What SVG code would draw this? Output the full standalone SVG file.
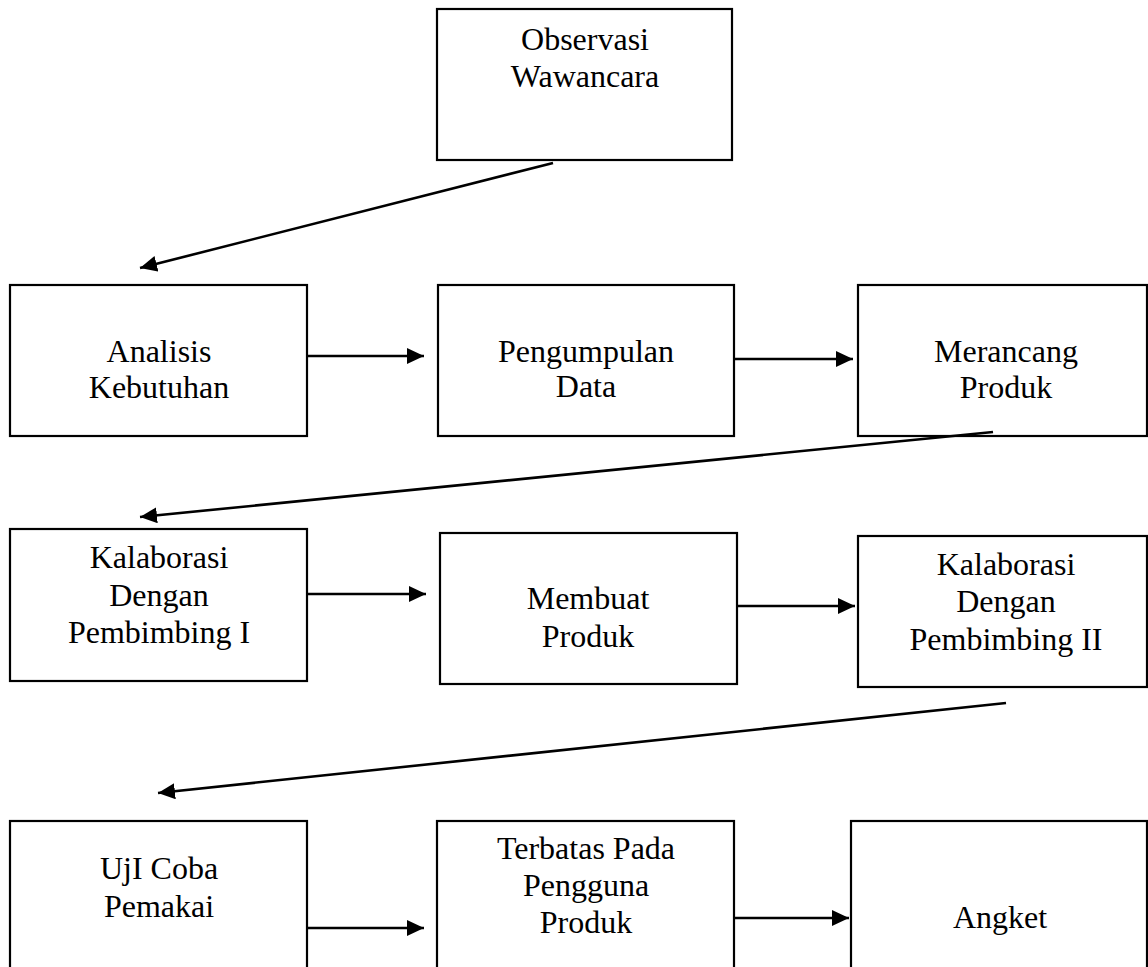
<svg xmlns="http://www.w3.org/2000/svg" width="1148" height="967" viewBox="0 0 1148 967">
<style>
.box{fill:#fff;stroke:#000;stroke-width:2.2}
.t{font-family:"Liberation Serif","Times New Roman",serif;font-size:32px;fill:#000;text-anchor:middle}
.c{stroke:#000;stroke-width:2.6;fill:none;marker-end:url(#ah)}
</style>
<defs>
<marker id="ah" markerUnits="userSpaceOnUse" markerWidth="19" markerHeight="18" refX="17" refY="8" orient="auto">
<path d="M0,0 L17,8 L0,16 z" fill="#000"/>
</marker>
</defs>
<rect width="1148" height="967" fill="#fff"/>
<g id="n-observasi"><rect class="box" x="437" y="9" width="295" height="151"/><text class="t" x="585" y="50">Observasi</text><text class="t" x="585" y="87">Wawancara</text></g>
<g id="n-analisis"><rect class="box" x="10" y="285" width="297" height="151"/><text class="t" x="159" y="362">Analisis</text><text class="t" x="159" y="398">Kebutuhan</text></g>
<g id="n-pengumpulan"><rect class="box" x="438" y="285" width="296" height="151"/><text class="t" x="586" y="362">Pengumpulan</text><text class="t" x="586" y="397">Data</text></g>
<g id="n-merancang"><rect class="box" x="858" y="285" width="289" height="151"/><text class="t" x="1006" y="362">Merancang</text><text class="t" x="1006" y="398">Produk</text></g>
<g id="n-kalab1"><rect class="box" x="10" y="529" width="297" height="152"/><text class="t" x="159" y="568">Kalaborasi</text><text class="t" x="159" y="606">Dengan</text><text class="t" x="159" y="643">Pembimbing I</text></g>
<g id="n-membuat"><rect class="box" x="440" y="533" width="297" height="151"/><text class="t" x="588" y="609">Membuat</text><text class="t" x="588" y="647">Produk</text></g>
<g id="n-kalab2"><rect class="box" x="858" y="536" width="289" height="151"/><text class="t" x="1006" y="575">Kalaborasi</text><text class="t" x="1006" y="612">Dengan</text><text class="t" x="1006" y="650">Pembimbing II</text></g>
<g id="n-ujicoba"><rect class="box" x="10" y="821" width="297" height="160"/><text class="t" x="159" y="879">UjI Coba</text><text class="t" x="159" y="917">Pemakai</text></g>
<g id="n-terbatas"><rect class="box" x="437" y="821" width="297" height="160"/><text class="t" x="586" y="859">Terbatas Pada</text><text class="t" x="586" y="896">Pengguna</text><text class="t" x="586" y="933">Produk</text></g>
<g id="n-angket"><rect class="box" x="851" y="821" width="296" height="160"/><text class="t" x="1000" y="928">Angket</text></g>
<g id="connectors">
<line class="c" x1="553" y1="163" x2="140" y2="268"/>
<line class="c" x1="307" y1="356" x2="424" y2="356"/>
<line class="c" x1="734" y1="359" x2="853" y2="359"/>
<line class="c" x1="993" y1="432" x2="140" y2="517"/>
<line class="c" x1="307" y1="594" x2="426" y2="594"/>
<line class="c" x1="737" y1="606" x2="855" y2="606"/>
<line class="c" x1="1006" y1="703" x2="158" y2="793"/>
<line class="c" x1="307" y1="928" x2="424" y2="928"/>
<line class="c" x1="734" y1="918" x2="849" y2="918"/>
</g>
</svg>
